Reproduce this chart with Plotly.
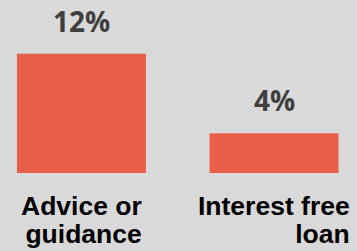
import plotly.graph_objects as go

categories = ["Advice or guidance", "Interest free loan"]
category_lines = [["Advice or", "guidance"], ["Interest free", "loan"]]
values = [12, 4]
value_labels = ["12%", "4%"]

BG = "#D9D9D9"
BAR = "#E8604A"

fig = go.Figure()
fig.add_trace(go.Bar(
    x=categories, y=values, width=0.67,
    marker=dict(color=BAR, line=dict(width=0)),
    hoverinfo="skip",
))

# value labels above bars
for cat, v, lab in zip(categories, values, value_labels):
    fig.add_annotation(
        x=cat, y=v, xref="x", yref="y", text=lab, showarrow=False,
        yanchor="bottom", yshift=12,
        font=dict(family="Open Sans", size=28, color="#3F3F3F", weight="bold"),
    )

# category labels (two lines, right aligned block)
for cat, lines in zip(categories, category_lines):
    txt = "<br>".join('<span style="font-size:26.5px">%s</span>' % l for l in lines)
    fig.add_annotation(
        x=cat, y=0, xref="x", yref="paper", text=txt, showarrow=False,
        yanchor="top", yshift=-16, align="right",
        font=dict(family="Liberation Sans", size=21.8, color="#000000", weight="bold"),
    )

fig.update_layout(
    width=357, height=251,
    margin=dict(l=0, r=0, t=14, b=78),
    paper_bgcolor=BG, plot_bgcolor=BG,
    showlegend=False,
    xaxis=dict(range=[-0.423, 1.431], showticklabels=False, showgrid=False,
               zeroline=False, showline=False, ticks=""),
    yaxis=dict(range=[0, 16], visible=False, showgrid=False, zeroline=False),
)

fig.write_html("out.html", config={"displayModeBar": False},
               post_script="document.body.style.margin='0';document.body.style.background='#D9D9D9';")
